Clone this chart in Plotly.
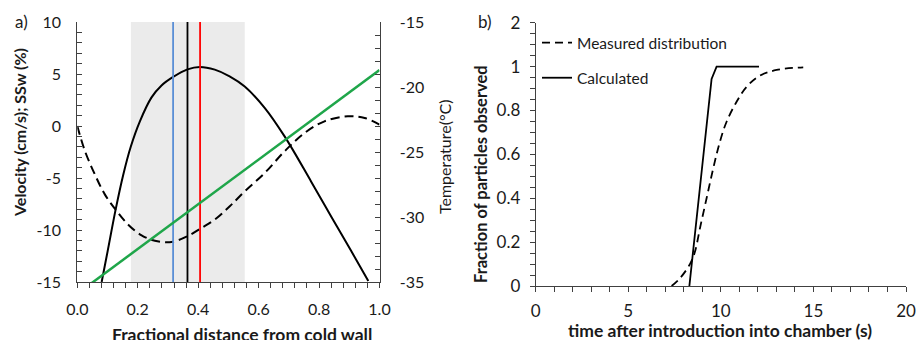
import plotly.graph_objects as go

# ---- panel a) profiles across the chamber ----
dist_vel = [0.0806, 0.1003, 0.1268, 0.1521, 0.1774, 0.2071, 0.2457, 0.2787, 0.3172,
            0.3646, 0.4053, 0.4549, 0.504, 0.554, 0.620, 0.686, 0.774, 0.840,
            0.906, 0.963]
velocity = [-15.0, -12.05, -8.04, -4.68, -1.95, 0.45, 2.75, 3.9, 4.72,
            5.45, 5.68, 5.42, 4.78, 3.8, 1.75, -1.0, -5.35, -8.7,
            -12.0, -14.9]

dist_ssw = [0.0, 0.0255, 0.0585, 0.0915, 0.1268, 0.1686, 0.2127, 0.2567, 0.3119,
            0.3646, 0.411, 0.455, 0.5045, 0.554, 0.620, 0.686, 0.752, 0.818,
            0.895, 0.951, 1.0]
ssw = [0.0, -2.43, -4.68, -6.6, -8.04, -9.49, -10.51, -11.03, -11.15,
       -10.6, -9.8, -9.0, -7.72, -6.28, -4.52, -2.43, -0.67, 0.45,
       0.93, 0.77, 0.13]

dist_temp = [0.0, 1.0]
temperature = [-35.9, -18.7]

band_x = [0.1774, 0.554]
marker_x = [0.317, 0.3646, 0.4063]
marker_colors = ["#5b8fd6", "#000000", "#ff0000"]
marker_span = [-15, 10]

a_yticks = [-15, -10, -5, 0, 5, 10]
a_yticktext = ["-15", "-10", "-5", "0", "5", "10"]
a_y2ticks = [-35, -30, -25, -20, -15]
a_y2ticktext = ["-35", "-30", "-25", "-20", "-15"]

# ---- panel b) arrival-time distributions ----
t_meas = [7.34, 7.79, 8.33, 8.60, 8.87, 9.23, 9.59, 9.95, 10.31, 10.85, 11.40,
          12.11, 13.01, 14.45]
f_meas = [0.0, 0.035, 0.10, 0.156, 0.263, 0.40, 0.537, 0.658, 0.749, 0.84, 0.909,
          0.959, 0.985, 0.997]
t_calc = [8.30, 9.50, 9.77, 12.06]
f_calc = [0.0, 0.944, 1.0, 1.0]

b_tickvals = [0, 0.2, 0.4, 0.6, 0.8, 1.0, 1.2]
b_ticktext = ["0", "0.2", "0.4", "0.6", "0.8", "1", "2"]

W, H = 917, 340
FONT = "Lato"
INK = "#1a1a1a"
AX = "#404040"


def px(x):
    return x / W


def py(y):
    return 1 - y / H


fig = go.Figure()

fig.add_trace(go.Scatter(x=dist_ssw, y=ssw, mode="lines", line_shape="spline",
                         line=dict(color="black", width=2, dash="9px,5px"),
                         xaxis="x", yaxis="y", showlegend=False))
fig.add_trace(go.Scatter(x=dist_vel, y=velocity, mode="lines", line_shape="spline",
                         line=dict(color="black", width=2, smoothing=1),
                         xaxis="x", yaxis="y", showlegend=False))
for mx, mc in zip(marker_x, marker_colors):
    fig.add_trace(go.Scatter(x=[mx, mx], y=marker_span, mode="lines",
                             line=dict(color=mc, width=1.8),
                             xaxis="x", yaxis="y", showlegend=False))
fig.add_trace(go.Scatter(x=dist_temp, y=temperature, mode="lines",
                         line=dict(color="#1fa64a", width=2.5),
                         xaxis="x", yaxis="y2", showlegend=False))

fig.add_trace(go.Scatter(x=t_meas, y=f_meas, mode="lines", line_shape="spline",
                         line=dict(color="black", width=1.8, dash="8px,5px"),
                         xaxis="x2", yaxis="y3", name="Measured distribution",
                         legendgroup="meas"))
fig.add_trace(go.Scatter(x=t_calc, y=f_calc, mode="lines",
                         line=dict(color="black", width=1.8),
                         xaxis="x2", yaxis="y3", name="Calculated",
                         legendgroup="calc"))

fig.add_shape(type="rect", xref="x", yref="y", x0=band_x[0], x1=band_x[1],
              y0=-15, y1=10.15, fillcolor="#ebebeb", line_width=0, layer="below")

tickfont = dict(family=FONT, size=16, color=INK)
tickfont_b = dict(family=FONT, size=17, color=INK)
common = dict(showgrid=False, zeroline=False, showline=True, linecolor=AX,
              linewidth=1, tickcolor=AX, ticklen=5)

fig.update_layout(
    width=W, height=H,
    margin=dict(l=0, r=0, t=0, b=0, autoexpand=False),
    paper_bgcolor="white", plot_bgcolor="rgba(0,0,0,0)",
    font=dict(family=FONT, color=INK),
    xaxis=dict(domain=[px(77.3), px(379.5)], range=[0, 1], dtick=0.2,
               tickformat=".1f", ticks="outside", anchor="y", tickfont=tickfont,
               minor=dict(dtick=0.04, ticks="outside", ticklen=5, tickcolor=AX),
               ticklabelstandoff=8, **common),
    yaxis=dict(domain=[py(282), py(22)], range=[-15, 10],
               tickvals=a_yticks, ticktext=a_yticktext, tickfont=tickfont,
               ticks="inside", anchor="x",
               minor=dict(dtick=1, ticks="inside", ticklen=5, tickcolor=AX),
               ticklabelstandoff=12, **common),
    yaxis2=dict(range=[-35, -15], tickvals=a_y2ticks, ticktext=a_y2ticktext,
                ticks="inside", side="right", tickfont=tickfont,
                overlaying="y", anchor="x",
                minor=dict(dtick=1, ticks="inside", ticklen=5, tickcolor=AX),
                ticklabelstandoff=16, **common),
    xaxis2=dict(domain=[px(535.7), px(906)], range=[0, 20], dtick=5,
                ticks="outside", anchor="y3", tickfont=tickfont_b,
                minor=dict(dtick=1, ticks="outside", ticklen=5, tickcolor=AX),
                ticklabelstandoff=5, **common),
    yaxis3=dict(domain=[py(286), py(22.8)], range=[0, 1.2],
                tickvals=b_tickvals, ticktext=b_ticktext, tickfont=tickfont_b,
                ticks="outside", anchor="x2",
                minor=dict(dtick=0.05, ticks="outside", ticklen=5, tickcolor=AX),
                ticklabelstandoff=6, **common),
    legend=dict(x=px(537), y=py(26), xanchor="left", yanchor="top",
                bgcolor="rgba(0,0,0,0)", font=dict(family=FONT, size=15.5, color=INK),
                traceorder="grouped", tracegroupgap=12, itemwidth=30),
)

annotations = [
    dict(text="a)", x=px(21), y=py(22), font=dict(size=17)),
    dict(text="b)", x=px(485), y=py(22), font=dict(size=17)),
    dict(text="<b>Velocity (cm/s); SSw (%)</b>", x=px(20), y=py(133), textangle=-90,
         font=dict(size=16)),
    dict(text="Temperature(°C)", x=px(444), y=py(157), textangle=-90,
         font=dict(size=16)),
    dict(text="<b>Fractional distance from cold wall</b>", x=px(242), y=py(334),
         font=dict(size=17.5)),
    dict(text="<b>Fraction of particles observed</b>", x=px(481), y=py(174),
         textangle=-90, font=dict(size=16.5)),
    dict(text="<b>time after introduction into chamber (s)</b>", x=px(720), y=py(330),
         font=dict(size=17.5)),
]
for a in annotations:
    a.update(xref="paper", yref="paper", showarrow=False, xanchor="center",
             yanchor="middle")
    a["font"].update(family=FONT, color=INK)
    fig.add_annotation(**a)

fig.write_html("out.html")
